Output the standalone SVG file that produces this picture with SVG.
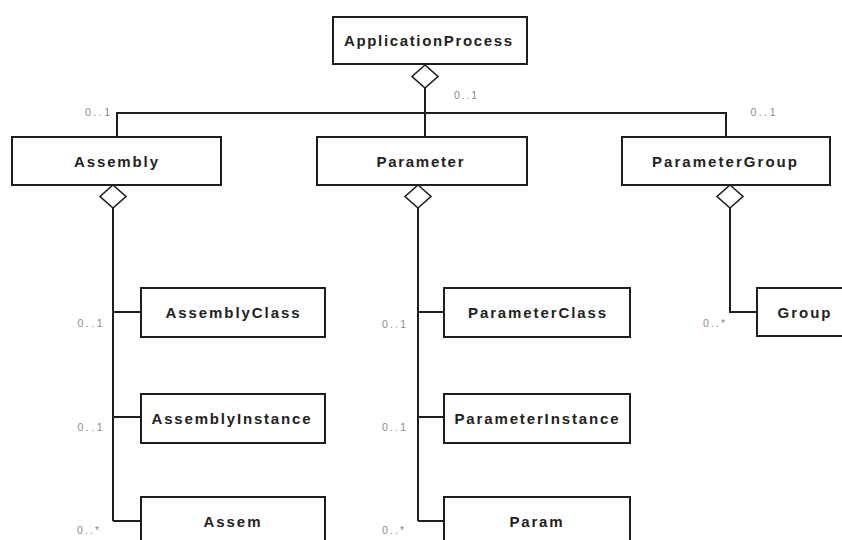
<svg xmlns="http://www.w3.org/2000/svg" width="842" height="540" viewBox="0 0 842 540">
<style>
.box{fill:#fff;stroke:#1e1e1e;stroke-width:2}
.t{font-family:"Liberation Sans",Arial,sans-serif;font-weight:bold;font-size:15px;fill:#222;text-anchor:middle}
.m{font-family:"Liberation Sans",Arial,sans-serif;font-size:10.5px;fill:#8a8a8a;text-anchor:middle}
.ln{fill:none;stroke:#1e1e1e;stroke-width:2}
.dm{fill:#fff;stroke:#1e1e1e;stroke-width:1.6}
</style>
<rect width="842" height="540" fill="#fff"/>
<g id="connectors">
<path class="ln" d="M425 88V137M117 137V113H726V137"/>
<path class="ln" d="M113 208V521M113 312H141M113 417H141M113 521H141"/>
<path class="ln" d="M418 208V521M418 312H444M418 417H444M418 521H444"/>
<path class="ln" d="M730 208V312H757"/>
<polygon class="dm" points="425,65 438,76.5 425,88 412,76.5"/>
<polygon class="dm" points="113,185 126,196.5 113,208 100,196.5"/>
<polygon class="dm" points="418,185 431,196.5 418,208 405,196.5"/>
<polygon class="dm" points="730,185 743,196.5 730,208 717,196.5"/>
<text class="m" x="97.5" y="116" textLength="25" lengthAdjust="spacing">0..1</text>
<text class="m" x="465.5" y="99" textLength="23" lengthAdjust="spacing">0..1</text>
<text class="m" x="763" y="116" textLength="25" lengthAdjust="spacing">0..1</text>
<text class="m" x="90" y="327" textLength="25" lengthAdjust="spacing">0..1</text>
<text class="m" x="90" y="431" textLength="25" lengthAdjust="spacing">0..1</text>
<text class="m" x="88" y="534" textLength="22" lengthAdjust="spacing">0..*</text>
<text class="m" x="394" y="328" textLength="24" lengthAdjust="spacing">0..1</text>
<text class="m" x="394" y="431" textLength="24" lengthAdjust="spacing">0..1</text>
<text class="m" x="393" y="534" textLength="22" lengthAdjust="spacing">0..*</text>
<text class="m" x="714" y="327" textLength="22" lengthAdjust="spacing">0..*</text>
</g>
<g id="ApplicationProcess"><rect class="box" x="333" y="17" width="194" height="47"/><text class="t" x="428" y="46" textLength="168" lengthAdjust="spacing">ApplicationProcess</text></g>
<g id="Assembly"><rect class="box" x="12" y="137" width="209" height="48"/><text class="t" x="116" y="166.5" textLength="84" lengthAdjust="spacing">Assembly</text></g>
<g id="Parameter"><rect class="box" x="317" y="137" width="210" height="48"/><text class="t" x="420" y="166.5" textLength="87" lengthAdjust="spacing">Parameter</text></g>
<g id="ParameterGroup"><rect class="box" x="622" y="137" width="208" height="48"/><text class="t" x="724.5" y="166.5" textLength="145" lengthAdjust="spacing">ParameterGroup</text></g>
<g id="AssemblyClass"><rect class="box" x="141" y="288" width="184" height="49"/><text class="t" x="232.5" y="318" textLength="134" lengthAdjust="spacing">AssemblyClass</text></g>
<g id="AssemblyInstance"><rect class="box" x="141" y="394" width="184" height="49"/><text class="t" x="231" y="423.5" textLength="159" lengthAdjust="spacing">AssemblyInstance</text></g>
<g id="Assem"><rect class="box" x="141" y="497" width="184" height="60"/><text class="t" x="232" y="527" textLength="57" lengthAdjust="spacing">Assem</text></g>
<g id="ParameterClass"><rect class="box" x="444" y="288" width="186" height="49"/><text class="t" x="537" y="318" textLength="138" lengthAdjust="spacing">ParameterClass</text></g>
<g id="ParameterInstance"><rect class="box" x="444" y="394" width="186" height="49"/><text class="t" x="536.5" y="423.5" textLength="164" lengthAdjust="spacing">ParameterInstance</text></g>
<g id="Param"><rect class="box" x="444" y="497" width="186" height="60"/><text class="t" x="536" y="527" textLength="53" lengthAdjust="spacing">Param</text></g>
<g id="Group"><rect class="box" x="757" y="288" width="100" height="48"/><text class="t" x="804" y="318" textLength="53" lengthAdjust="spacing">Group</text></g>
</svg>
